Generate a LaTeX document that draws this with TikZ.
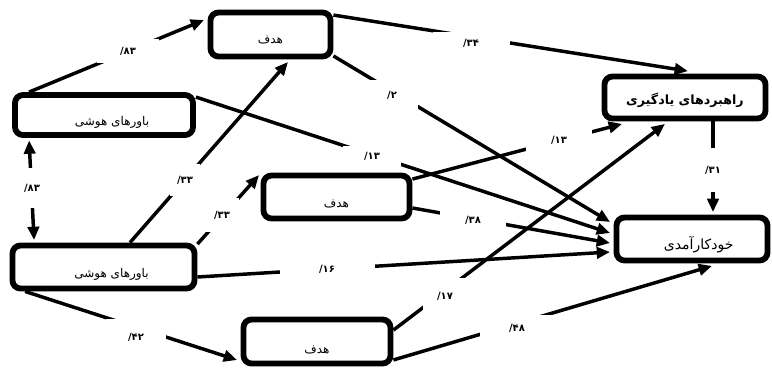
\documentclass[tikz,border=0pt]{standalone}
\usepackage{fontspec}
\usetikzlibrary{arrows.meta,calc}
\newfontfamily\fa[Script=Arabic]{DejaVu Sans}
\newfontfamily\fadig{DejaVu Sans}
\TeXXeTstate=1
\begin{document}
\begin{tikzpicture}[x=0.75pt,y=-0.75pt,
  box/.style={draw,line width=4.4pt,rounded corners=6pt,fill=white,inner sep=0pt,
    font=\fa\fontsize{9}{10}\selectfont},
  conn/.style={line width=2.6pt,-{Triangle[length=10pt,width=8.5pt]}},
  dconn/.style={line width=2.6pt,{Triangle[length=10pt,width=8.5pt]}-{Triangle[length=10pt,width=8.5pt]}},
  lab/.style={fill=white,inner sep=0pt,font=\fadig\bfseries\fontsize{7.5}{8}\selectfont}]
\useasboundingbox (0,0) rectangle (772,369);

% boxes
\node[box,minimum width={178*0.75pt},minimum height={40*0.75pt}] (A) at (104,115)
  {\hspace*{12pt}\raisebox{-8pt}[0pt][0pt]{\beginR باورهای هوشی\endR}};
\node[box,minimum width={182*0.75pt},minimum height={43*0.75pt}] (B) at (103.5,267)
  {\hspace*{12pt}\raisebox{-8pt}[0pt][0pt]{\beginR باورهای هوشی\endR}};
\node[box,minimum width={120*0.75pt},minimum height={44*0.75pt}] (G1) at (270.5,34.5)
  {\raisebox{-7pt}[0pt][0pt]{\beginR هدف\endR}};
\node[box,minimum width={146*0.75pt},minimum height={43*0.75pt}] (G2) at (336.5,197)
  {\raisebox{-8pt}[0pt][0pt]{\beginR هدف\endR}};
\node[box,minimum width={147*0.75pt},minimum height={44*0.75pt}] (G3) at (317,341.5)
  {\raisebox{-9pt}[0pt][0pt]{\beginR هدف\endR}};
\node[box,minimum width={161*0.75pt},minimum height={42*0.75pt},font=\fa\bfseries\fontsize{9.5}{11}\selectfont] (LS) at (685,97.5)
  {\raisebox{-5pt}[0pt][0pt]{\beginR راهبردهای یادگیری\endR}};
\node[box,minimum width={151*0.75pt},minimum height={43*0.75pt},font=\fa\fontsize{10.5}{12}\selectfont] (SE) at (692,239)
  {\hspace*{10pt}\raisebox{-8pt}[0pt][0pt]{\beginR خودکارآمدی\endR}};

% connectors
\draw[conn] ($(A.north west)+(17,0)$) -- ($(G1.west)+(-3.5,-14.5)$);
\draw[conn] ($(A.north east)+(0,5)$) -- ($(SE.west)+(-3.5,-6)$);
\draw[dconn] ($(A.south west)+(17,2.5)$) -- ($(B.north west)+(24.5,-2.5)$);
\draw[conn] ($(B.north)+(26.5,0)$) -- ($(G1.south)+(17.5,2.5)$);
\draw[conn] ($(B.north east)+(0,1.5)$) -- ($(G2.north west)+(-1.5,2.5)$);
\draw[conn] ($(B.east)+(0,10)$) -- ($(SE.west)+(-3.5,13)$);
\draw[conn] ($(B.south west)+(15.5,0)$) -- ($(G3.west)+(-3.5,18.5)$);
\draw[conn] ($(G1.north east)+(0,5.5)$) -- ($(LS.north)+(3,-2.5)$);
\draw[conn] ($(G1.south east)+(0,-3.5)$) -- ($(SE.west)+(-3.5,-17)$);
\draw[conn] ($(G2.north east)+(0,6.5)$) -- ($(LS.south west)+(20.5,2.5)$);
\draw[conn] ($(G2.east)+(0,11)$) -- ($(SE.west)+(-3.5,4)$);
\draw[conn] ($(G3.north east)+(0,13.5)$) -- ($(LS.south)+(-20,2.5)$);
\draw[conn] ($(G3.south east)+(0,-6.5)$) -- ($(SE.south)+(20,2.5)$);
\draw[conn] ($(LS.south)+(28,0)$) -- ($(SE.north)+(21,-2.5)$);

% labels
\node[lab,minimum width={62*0.75pt},minimum height={24*0.75pt}] (l1) at (128,51) {/۸۳};
\node[lab,minimum width={36*0.75pt},minimum height={40*0.75pt}] (l2) at (32,188) {/۸۳};
\node[lab,minimum width={58*0.75pt},minimum height={20*0.75pt}] (l3) at (372,156) {/۱۳};
\node[lab,minimum width={30*0.75pt},minimum height={32*0.75pt}] (l4) at (185,180) {/۳۳};
\node[lab,minimum width={34*0.75pt},minimum height={34*0.75pt}] (l5) at (222,215) {/۳۳};
\node[lab,minimum width={95*0.75pt},minimum height={24*0.75pt}] (l6) at (327,269) {/۱۶};
\node[lab,minimum width={60*0.75pt},minimum height={36*0.75pt}] (l7) at (136,337) {/۴۲};
\node[lab,minimum width={77*0.75pt},minimum height={22*0.75pt}] (l8) at (471,43) {/۳۴};
\node[lab,minimum width={52*0.75pt},minimum height={30*0.75pt}] (l9) at (392,95) {/۲};
\node[lab,minimum width={66*0.75pt},minimum height={22*0.75pt}] (l10) at (559,140) {/۱۳};
\node[lab,minimum width={66*0.75pt},minimum height={22*0.75pt}] (l11) at (473,220) {/۳۸};
\node[lab,minimum width={45*0.75pt},minimum height={36*0.75pt}] (l12) at (445,296) {/۱۷};
\node[lab,minimum width={75*0.75pt},minimum height={26*0.75pt}] (l13) at (517,328) {/۴۸};
\node[lab,minimum width={30*0.75pt},minimum height={44*0.75pt}] (l14) at (713,170) {/۳۱};
\end{tikzpicture}
\end{document}
